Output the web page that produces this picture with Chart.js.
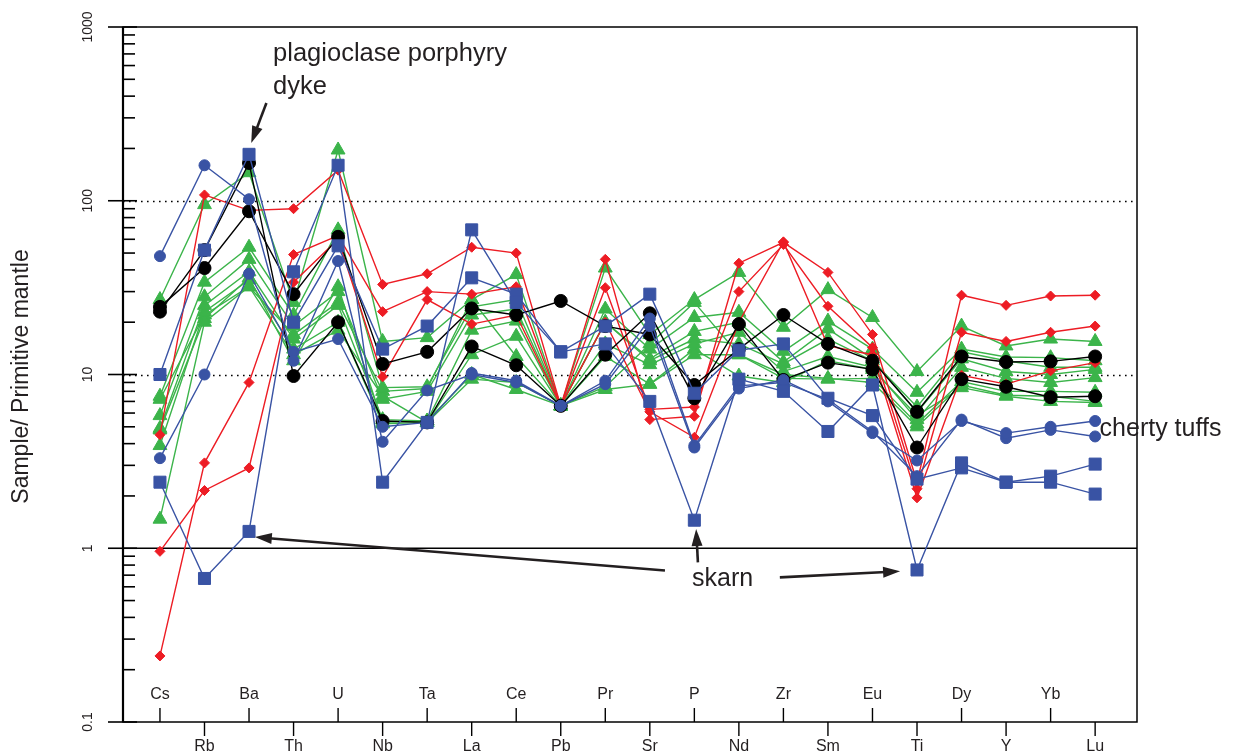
<!DOCTYPE html>
<html>
<head>
<meta charset="utf-8">
<script src="https://cdn.jsdelivr.net/npm/chart.js@4.4.1/dist/chart.umd.min.js"></script>
<style>
  html, body { margin: 0; background: #fff; }
</style>
</head>
<body>
<canvas id="spider" width="1235" height="751"></canvas>
<script>
// element order along the x axis (primitive-mantle normalised spider plot)
const ELEMENTS = ["Cs", "Rb", "Ba", "Th", "U", "Nb", "Ta", "La", "Ce", "Pb", "Pr",
  "Sr", "P", "Nd", "Zr", "Sm", "Eu", "Ti", "Dy", "Y", "Yb", "Lu"];
const Y_TICKS = [0.1, 1, 10, 100, 1000];
const Y_TICK_LABELS = ["0.1", "1", "10", "100", "1000"];

// blue squares
const SQ_SKARN = [2.4, 0.67, 1.25, 39, 160, 2.4, 5.3, 68, 26, 13.5, 15, 7, 1.45, 9.4, 8, 4.7, 8.7, 0.75, 3.1, 2.4, 2.4, 2.05];
const SQ_DYKE = [10, 52, 185, 20, 55, 14, 19, 36, 29, 13.5, 19, 29, 7.8, 13.8, 15, 7.3, 5.8, 2.5, 2.9, 2.4, 2.6, 3.05];
// blue circles
const CIRC_A = [48, 160, 102, 12, 45, 4.1, 8.1, 10, 9, 6.6, 8.8, 19, 3.8, 8.3, 9.3, 7, 4.6, 3.2, 5.4, 4.6, 5.0, 5.4];
const CIRC_B = [3.3, 10, 38, 13.5, 16, 5, 5.3, 10.2, 9.2, 6.6, 9.2, 21, 3.9, 8.6, 9, 7.2, 4.7, 2.6, 5.5, 4.3, 4.8, 4.4];
// black circles
const BLACK_A = [23, 52, 165, 9.8, 20, 5.4, 5.3, 14.5, 11.3, 6.6, 13, 22.5, 7.3, 19.5, 9.3, 11.7, 10.7, 3.8, 9.4, 8.5, 7.4, 7.5];
const BLACK_B = [24.5, 41, 87, 29, 62, 11.5, 13.5, 24, 22, 26.5, 19, 17, 8.7, 14, 22, 15, 12, 6.1, 12.7, 11.8, 11.9, 12.7];
// red diamonds
const RED_A = [4.5, 108, 88, 90, 150, 33, 38, 54, 50, 6.6, 46, 5.5, 5.75, 43.7, 57.6, 38.7, 17, 2.4, 28.6, 25, 28.3, 28.6];
const RED_B = [0.24, 3.1, 9, 49, 63, 23, 30, 29, 32, 6.6, 31.6, 6.3, 6.5, 30, 56, 24.7, 14.3, 2.2, 17.5, 15.5, 17.5, 19];
const RED_C = [0.96, 2.15, 2.9, 34, 60, 9.7, 27, 19.5, 22, 6.6, 20, 6.1, 4.35, 20, 58, 14.6, 13, 1.95, 9.9, 8.8, 10.5, 11.7];
// green triangles
const GREEN_A = [27, 95, 145, 26, 196, 15.5, 16.3, 27, 37.6, 6.6, 41, 17, 27, 38.7, 18.7, 30.8, 21.3, 10.4, 19, 14.6, 16, 15.5];
const GREEN_B = [7.5, 34, 54, 22, 68, 8.4, 8.5, 24.5, 27, 6.6, 23.8, 14, 21.3, 22.8, 13.6, 20.3, 14, 7.9, 14, 12.6, 12.5, 12];
const GREEN_C = [5.8, 28, 46, 19, 30, 7.2, 8, 22, 23.8, 6.6, 20, 12.3, 17.7, 20, 11.8, 18.3, 12.3, 6.05, 12.3, 10.4, 10, 10.7];
const GREEN_D = [4.9, 25, 39, 16, 25, 5.5, 5.4, 18, 20.3, 6.6, 15, 11.4, 15, 17.5, 10.4, 12.7, 11, 5.5, 11, 9.5, 9, 9.6];
const GREEN_E = [3.9, 23, 35, 14, 20, 5.2, 5.3, 13, 16.6, 6.6, 12.7, 8.8, 13, 13, 9.5, 9.4, 9.5, 5.2, 9.1, 8, 8, 7.9];
const GREEN_F = [1.47, 20, 32, 13, 18, 7.5, 5.3, 9.4, 9, 6.6, 8.2, 8.8, 14, 9.8, 9, 12, 10.7, 5.8, 8.4, 7.5, 7, 6.9];
const GREEN_G = [7.2, 22, 32, 17, 26, 8, 8.3, 27, 12.7, 6.6, 20, 12, 16, 15, 11.5, 16, 12, 6.5, 13.5, 12, 11, 11];
const GREEN_H = [4.8, 21, 36, 12, 32, 5.3, 5.4, 10, 8.2, 6.6, 8.5, 15, 26, 13, 10, 9.5, 9, 5, 8.7, 7.6, 7.5, 7];

// text labels and arrows, placed in data coordinates (x = element index)
const LABELS = [
  { text: "plagioclase porphyry", x: 2.54, y: 640, size: 25.5 },
  { text: "dyke", x: 2.54, y: 410, size: 25.5 },
  { text: "skarn", x: 11.95, y: 0.61, size: 25 },
  { text: "cherty tuffs", x: 21.1, y: 4.45, size: 25 },
];
const ARROWS = [
  { from: [2.39, 365], to: [2.05, 215] },
  { from: [11.34, 0.745], to: [2.13, 1.16] },
  { from: [12.08, 0.83], to: [12.04, 1.29] },
  { from: [13.92, 0.68], to: [16.62, 0.737] },
];

const BLUE = "#3953a4", RED = "#ed1c24", GREEN = "#3bb44a", BLACK = "#000000";
const INK = "#231f20";

function series(values, color, style, radius) {
  return {
    data: values.map((v, i) => ({ x: i, y: v })),
    borderColor: color,
    backgroundColor: color,
    pointBackgroundColor: color,
    pointBorderColor: color,
    borderWidth: 1.4,
    pointStyle: style,
    pointRadius: radius,
    pointHoverRadius: radius,
    pointBorderWidth: 1,
    tension: 0,
  };
}

// dataset 0 is painted last, so the blue samples end up on top
const datasets = [
  series(SQ_SKARN, BLUE, "rect", 8.5),
  series(SQ_DYKE, BLUE, "rect", 8.5),
  series(CIRC_A, BLUE, "circle", 5.5),
  series(CIRC_B, BLUE, "circle", 5.5),
  series(BLACK_A, BLACK, "circle", 6.5),
  series(BLACK_B, BLACK, "circle", 6.5),
  series(RED_A, RED, "rectRot", 5),
  series(RED_B, RED, "rectRot", 5),
  series(RED_C, RED, "rectRot", 5),
  series(GREEN_A, GREEN, "triangle", 8),
  series(GREEN_B, GREEN, "triangle", 8),
  series(GREEN_C, GREEN, "triangle", 8),
  series(GREEN_D, GREEN, "triangle", 8),
  series(GREEN_E, GREEN, "triangle", 8),
  series(GREEN_F, GREEN, "triangle", 8),
  series(GREEN_G, GREEN, "triangle", 8),
  series(GREEN_H, GREEN, "triangle", 8),
];

function arrow(ctx, x1, y1, x2, y2) {
  const ang = Math.atan2(y2 - y1, x2 - x1);
  const len = 17, half = 5.5;
  const bx = x2 - Math.cos(ang) * len, by = y2 - Math.sin(ang) * len;
  ctx.beginPath();
  ctx.moveTo(x1, y1);
  ctx.lineTo(bx + Math.cos(ang) * 3, by + Math.sin(ang) * 3);
  ctx.lineWidth = 2.6;
  ctx.stroke();
  ctx.beginPath();
  ctx.moveTo(x2, y2);
  ctx.lineTo(bx - Math.sin(ang) * half, by + Math.cos(ang) * half);
  ctx.lineTo(bx + Math.sin(ang) * half, by - Math.cos(ang) * half);
  ctx.closePath();
  ctx.fill();
}

const spiderFrame = {
  id: "spiderFrame",
  beforeDatasetsDraw(chart) {
    const { ctx, chartArea: a, scales: { y } } = chart;
    ctx.save();
    ctx.strokeStyle = "#000";
    // dotted guides at 10 and 100
    ctx.setLineDash([1.6, 4.4]);
    ctx.lineWidth = 1.6;
    [10, 100].forEach(v => {
      const py = Math.round(y.getPixelForValue(v)) + 0.5;
      ctx.beginPath(); ctx.moveTo(a.left, py); ctx.lineTo(a.right, py); ctx.stroke();
    });
    // solid line at 1 (primitive mantle)
    ctx.setLineDash([]);
    ctx.lineWidth = 1.6;
    const p1 = y.getPixelForValue(1);
    ctx.beginPath(); ctx.moveTo(a.left, p1); ctx.lineTo(a.right, p1); ctx.stroke();
    ctx.restore();
  },
  afterDraw(chart) {
    const { ctx, chartArea: a, scales: { x, y } } = chart;
    ctx.save();
    ctx.strokeStyle = "#000";
    ctx.fillStyle = INK;

    // frame
    ctx.lineWidth = 1.5;
    ctx.strokeRect(a.left, a.top, a.right - a.left, a.bottom - a.top);
    ctx.lineWidth = 2.2;
    ctx.beginPath(); ctx.moveTo(a.left, a.top); ctx.lineTo(a.left, a.bottom); ctx.stroke();

    // log-axis ticks: majors cross the axis, minors point inward
    ctx.lineWidth = 1.6;
    for (let d = -1; d <= 3; d++) {
      const base = Math.pow(10, d);
      const py = y.getPixelForValue(base);
      ctx.beginPath(); ctx.moveTo(a.left - 15, py); ctx.lineTo(a.left + 14, py); ctx.stroke();
      if (d === 3) continue;
      for (let m = 2; m <= 9; m++) {
        const pm = y.getPixelForValue(base * m);
        ctx.beginPath(); ctx.moveTo(a.left, pm); ctx.lineTo(a.left + 12, pm); ctx.stroke();
      }
    }
    ctx.font = "14px 'Liberation Sans Narrow', 'Liberation Sans', Arial, sans-serif";
    ctx.textAlign = "center";
    ctx.textBaseline = "middle";
    Y_TICKS.forEach((v, i) => {
      ctx.save();
      ctx.translate(a.left - 35, y.getPixelForValue(v));
      ctx.rotate(-Math.PI / 2);
      ctx.fillText(Y_TICK_LABELS[i], 0, 0);
      ctx.restore();
    });

    // axis title
    ctx.save();
    ctx.font = "23px 'Liberation Sans', Arial, sans-serif";
    ctx.translate(22, (a.top + a.bottom) / 2 + 2);
    ctx.rotate(-Math.PI / 2);
    ctx.fillText("Sample/ Primitive mantle", 0, 0);
    ctx.restore();

    // element ticks alternate between inside (upper row) and outside (lower row)
    ctx.font = "16px 'Liberation Sans Narrow', 'Liberation Sans', Arial, sans-serif";
    ctx.lineWidth = 1.4;
    ELEMENTS.forEach((el, i) => {
      const px = x.getPixelForValue(i);
      const upper = i % 2 === 0;
      ctx.beginPath();
      ctx.moveTo(px, a.bottom);
      ctx.lineTo(px, upper ? a.bottom - 14 : a.bottom + 14);
      ctx.stroke();
      ctx.fillText(el, px, upper ? a.bottom - 27 : a.bottom + 25);
    });

    // annotations
    ctx.textAlign = "left";
    ctx.textBaseline = "alphabetic";
    LABELS.forEach(l => {
      ctx.font = l.size + "px 'Liberation Sans', Arial, sans-serif";
      ctx.fillText(l.text, x.getPixelForValue(l.x), y.getPixelForValue(l.y));
    });
    ctx.strokeStyle = INK;
    ARROWS.forEach(ar => {
      arrow(ctx,
        x.getPixelForValue(ar.from[0]), y.getPixelForValue(ar.from[1]),
        x.getPixelForValue(ar.to[0]), y.getPixelForValue(ar.to[1]));
    });
    ctx.restore();
  },
};

new Chart(document.getElementById("spider"), {
  type: "line",
  data: { datasets },
  options: {
    responsive: false,
    animation: false,
    layout: { padding: { left: 123, top: 27, right: 98, bottom: 29 } },
    plugins: { legend: { display: false }, tooltip: { enabled: false } },
    scales: {
      x: { type: "linear", min: -0.83, max: 21.94, display: false },
      y: { type: "logarithmic", min: 0.1, max: 1000, display: false },
    },
  },
  plugins: [spiderFrame],
});
</script>
</body>
</html>
